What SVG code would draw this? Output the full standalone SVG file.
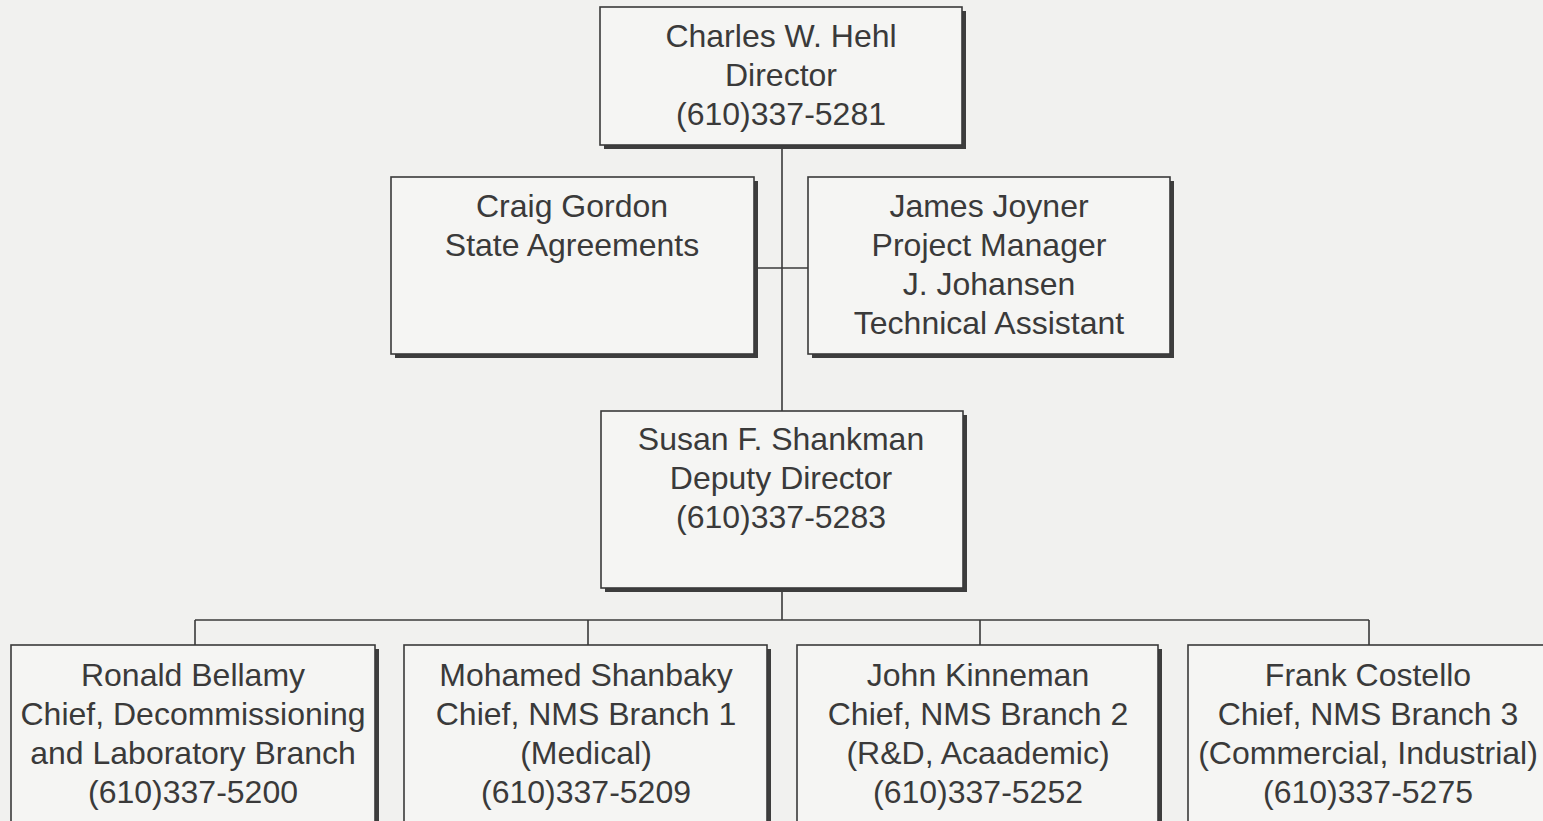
<svg xmlns="http://www.w3.org/2000/svg" width="1543" height="821" viewBox="0 0 1543 821">
<defs>
<style>
.bg{fill:#f1f1ef}
.box{fill:#f5f5f3;stroke:#3a3a3a;stroke-width:1.6}
.sh{fill:#3d3d3d}
.t{font-family:"Liberation Sans",Arial,sans-serif;font-size:32px;fill:#3a3a3a;text-anchor:middle}
.ln{stroke:#3a3a3a;stroke-width:1.6;fill:none}
</style>
</defs>
<rect class="bg" x="0" y="0" width="1543" height="821"/>
<g id="connectors">
<path class="ln" d="M782 145 V411"/>
<path class="ln" d="M754 268 H808"/>
<path class="ln" d="M782 589 V620"/>
<path class="ln" d="M195 620 H1369"/>
<path class="ln" d="M195 620 V645 M588 620 V645 M980 620 V645 M1369 620 V645"/>
</g>
<g id="hehl">
<rect class="sh" x="604" y="11" width="362" height="138"/>
<rect class="box" x="600" y="7" width="362" height="138"/>
<text class="t" x="781" y="47">Charles W. Hehl</text>
<text class="t" x="781" y="86">Director</text>
<text class="t" x="781" y="125">(610)337-5281</text>
</g>
<g id="gordon">
<rect class="sh" x="395" y="181" width="363" height="177"/>
<rect class="box" x="391" y="177" width="363" height="177"/>
<text class="t" x="572" y="217">Craig Gordon</text>
<text class="t" x="572" y="256">State Agreements</text>
</g>
<g id="joyner">
<rect class="sh" x="812" y="181" width="362" height="177"/>
<rect class="box" x="808" y="177" width="362" height="177"/>
<text class="t" x="989" y="217">James Joyner</text>
<text class="t" x="989" y="256">Project Manager</text>
<text class="t" x="989" y="295">J. Johansen</text>
<text class="t" x="989" y="334">Technical Assistant</text>
</g>
<g id="shankman">
<rect class="sh" x="605" y="415" width="362" height="177"/>
<rect class="box" x="601" y="411" width="362" height="177"/>
<text class="t" x="781" y="450">Susan F. Shankman</text>
<text class="t" x="781" y="489">Deputy Director</text>
<text class="t" x="781" y="528">(610)337-5283</text>
</g>
<g id="bellamy">
<rect class="sh" x="15" y="649" width="364" height="190"/>
<rect class="box" x="11" y="645" width="364" height="190"/>
<text class="t" x="193" y="686">Ronald Bellamy</text>
<text class="t" x="193" y="725">Chief, Decommissioning</text>
<text class="t" x="193" y="764">and Laboratory Branch</text>
<text class="t" x="193" y="803">(610)337-5200</text>
</g>
<g id="shanbaky">
<rect class="sh" x="408" y="649" width="363" height="190"/>
<rect class="box" x="404" y="645" width="363" height="190"/>
<text class="t" x="586" y="686">Mohamed Shanbaky</text>
<text class="t" x="586" y="725">Chief, NMS Branch 1</text>
<text class="t" x="586" y="764">(Medical)</text>
<text class="t" x="586" y="803">(610)337-5209</text>
</g>
<g id="kinneman">
<rect class="sh" x="801" y="649" width="361" height="190"/>
<rect class="box" x="797" y="645" width="361" height="190"/>
<text class="t" x="978" y="686">John Kinneman</text>
<text class="t" x="978" y="725">Chief, NMS Branch 2</text>
<text class="t" x="978" y="764">(R&amp;D, Acaademic)</text>
<text class="t" x="978" y="803">(610)337-5252</text>
</g>
<g id="costello">
<rect class="sh" x="1192" y="649" width="364" height="190"/>
<rect class="box" x="1188" y="645" width="364" height="190"/>
<text class="t" x="1368" y="686">Frank Costello</text>
<text class="t" x="1368" y="725">Chief, NMS Branch 3</text>
<text class="t" x="1368" y="764">(Commercial, Industrial)</text>
<text class="t" x="1368" y="803">(610)337-5275</text>
</g>
</svg>
